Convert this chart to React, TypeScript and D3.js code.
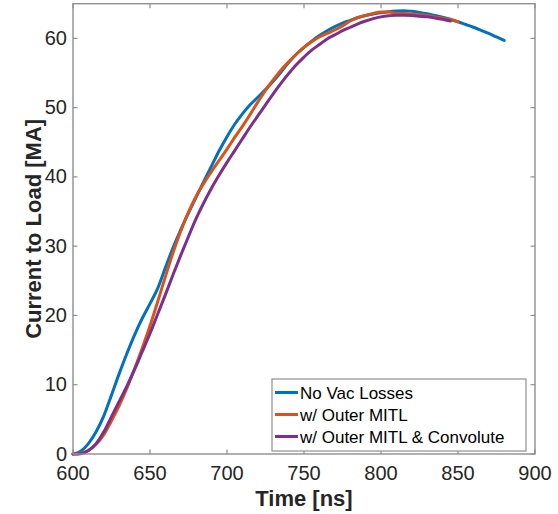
import React from "react";
import * as d3 from "d3";

const times = [600,605,610,615,620,625,630,635,640,645,650,655,660,665,670,675,680,685,690,695,700,705,710,715,720,725,730,735,740,745,750,755,760,765,770,775,780,785,790,795,800,805,810,815,820,825,830,835,840,845,850,855,860,865,870,875,880];

const noVacLosses = [0,0.4,1.5,3.2,5.5,8.5,11.6,14.5,17.2,19.6,21.7,23.9,26.9,29.8,32.4,34.8,37.1,39.4,41.6,43.8,45.8,47.6,49.1,50.4,51.5,52.6,53.8,55.1,56.5,57.7,58.7,59.6,60.4,61.1,61.7,62.2,62.6,63.0,63.3,63.5,63.7,63.85,63.95,64.0,63.9,63.75,63.55,63.3,63.05,62.75,62.4,62.0,61.6,61.15,60.7,60.2,59.7];

const outerMITL = [0,0.1,0.5,1.4,2.8,4.8,7.0,9.5,12.3,15.3,18.5,22.0,25.6,29.1,32.2,34.9,37.2,39.1,40.8,42.4,44.0,45.7,47.3,49.0,50.8,52.5,54.0,55.4,56.6,57.7,58.7,59.5,60.2,60.7,61.2,61.8,62.5,63.0,63.3,63.6,63.8,63.8,63.6,63.6,63.5,63.4,63.3,63.1,62.9,62.7,62.4];

const outerMITLConvolute = [0,0.05,0.5,1.5,3.2,5.4,7.6,9.8,12.2,14.8,17.4,20.2,23.0,25.9,28.7,31.4,34.0,36.3,38.4,40.3,42.1,43.8,45.5,47.2,48.8,50.4,52.0,53.5,54.9,56.2,57.3,58.3,59.1,59.9,60.5,61.1,61.6,62.1,62.5,62.85,63.1,63.25,63.35,63.35,63.3,63.2,63.1,62.95,62.75,62.5];

const seriesNames = ["No Vac Losses", "w/ Outer MITL", "w/ Outer MITL & Convolute"];
const seriesValues = [noVacLosses, outerMITL, outerMITLConvolute];
const seriesColors = ["#0072BD", "#D95319", "#7E2F8E"];

const xTicks = [600, 650, 700, 750, 800, 850, 900];
const yTicks = [0, 10, 20, 30, 40, 50, 60];

const W = 558, H = 514;
const L = 73, R = 535, T = 3.7, B = 454;
const axisColor = "#8f8f8f";
const textColor = "#262626";
const font = "'Liberation Sans', Arial, Helvetica, sans-serif";

export default function App() {
  const x = d3.scaleLinear().domain([600, 900]).range([L, R]);
  const y = d3.scaleLinear().domain([0, 65]).range([B, T]);
  const line = d3.line<[number, number]>()
    .x(d => x(d[0]))
    .y(d => y(d[1]))
    .curve(d3.curveMonotoneX);

  const tl = 4.5;
  const legX = 272, legY = 379, legW = 254, legH = 72;

  return (
    <svg width={W} height={H} style={{ position: "absolute", left: 0, top: 0, background: "#fff" }}>
      <rect x={0} y={0} width={W} height={H} fill="#fff" />
      {seriesValues.map((vals, i) => (
        <path key={i}
          d={line(vals.map((v, j) => [times[j], v] as [number, number])) || ""}
          fill="none" stroke={seriesColors[i]} strokeWidth={3} strokeLinejoin="round" strokeLinecap="round" />
      ))}
      <rect x={L} y={T} width={R - L} height={B - T} fill="none" stroke={axisColor} strokeWidth={1.4} />
      {xTicks.map(t => (
        <g key={"x" + t}>
          <line x1={x(t)} x2={x(t)} y1={B} y2={B - tl} stroke={axisColor} strokeWidth={1.2} />
          <line x1={x(t)} x2={x(t)} y1={T} y2={T + tl} stroke={axisColor} strokeWidth={1.2} />
          <text x={x(t)} y={480} textAnchor="middle" fontFamily={font} fontSize={20} fill={textColor}>{t}</text>
        </g>
      ))}
      {yTicks.map(t => (
        <g key={"y" + t}>
          <line x1={L} x2={L + tl} y1={y(t)} y2={y(t)} stroke={axisColor} strokeWidth={1.2} />
          <line x1={R} x2={R - tl} y1={y(t)} y2={y(t)} stroke={axisColor} strokeWidth={1.2} />
          <text x={67} y={y(t) + 6.5} textAnchor="end" fontFamily={font} fontSize={20} fill={textColor}>{t}</text>
        </g>
      ))}
      <text x={(L + R) / 2} y={506} textAnchor="middle" fontFamily={font} fontSize={22} fontWeight="bold" fill={textColor}>Time [ns]</text>
      <text transform={`translate(41, ${(T + B) / 2}) rotate(-90)`} textAnchor="middle" fontFamily={font} fontSize={22} fontWeight="bold" fill={textColor}>Current to Load [MA]</text>
      <rect x={legX} y={legY} width={legW} height={legH} fill="#fff" stroke={axisColor} strokeWidth={1.2} />
      {seriesNames.map((n, i) => (
        <g key={n}>
          <line x1={275} x2={298} y1={392.5 + i * 22} y2={392.5 + i * 22} stroke={seriesColors[i]} strokeWidth={3} />
          <text x={300} y={392.5 + i * 22 + 6} fontFamily={font} fontSize={17} fill="#000">{n}</text>
        </g>
      ))}
    </svg>
  );
}
